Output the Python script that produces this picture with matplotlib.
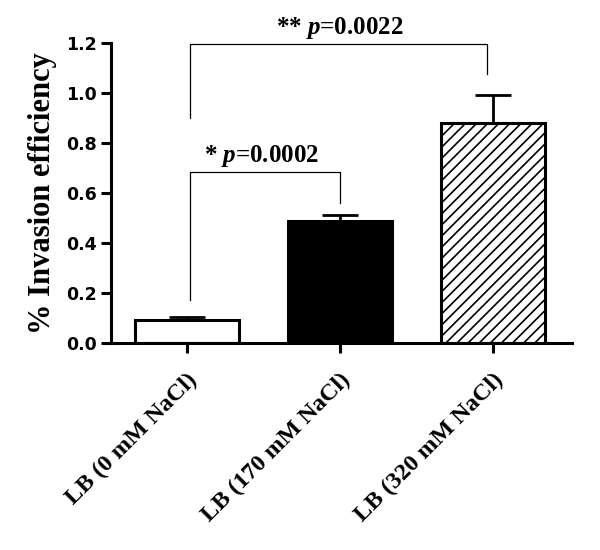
import matplotlib
matplotlib.use('Agg')
import matplotlib.pyplot as plt

plt.rcParams['mathtext.fontset'] = 'custom'
plt.rcParams['mathtext.it'] = 'Liberation Serif:italic:bold'
plt.rcParams['mathtext.rm'] = 'Liberation Serif:bold'
plt.rcParams['hatch.linewidth'] = 1.2

categories = ['LB (0 mM NaCl)', 'LB (170 mM NaCl)', 'LB (320 mM NaCl)']
means = [0.092, 0.488, 0.88]
errors = [0.012, 0.024, 0.11]
y_ticks = [0.0, 0.2, 0.4, 0.6, 0.8, 1.0, 1.2]

fig = plt.figure(figsize=(6, 5.5), dpi=100)
ax = fig.add_axes([0.185, 0.376, 0.768, 0.546])

x = range(len(categories))
faces = ['white', 'black', 'white']
hatches = ['', '', '///']
for i in x:
    ax.bar(i, means[i], width=0.68, color=faces[i], edgecolor='black',
           linewidth=2.2, hatch=hatches[i], zorder=2)
    # only upper error bar
    ax.errorbar(i, means[i], yerr=[[0], [errors[i]]], fmt='none',
                ecolor='black', elinewidth=2, capsize=13, capthick=2, zorder=1)

# significance brackets
ax.plot([0.02, 0.02, 1.0, 1.0], [0.172, 0.684, 0.684, 0.56], color='black', lw=0.9)
ax.plot([0.02, 0.02, 1.96, 1.96], [0.90, 1.196, 1.196, 1.076], color='black', lw=0.9)
ax.text(0.49, 0.695, '* $p$=0.0002', ha='center', va='bottom',
        family='Liberation Serif', weight='bold', fontsize=18)
ax.text(1.0, 1.207, '** $p$=0.0022', ha='center', va='bottom',
        family='Liberation Serif', weight='bold', fontsize=18)

ax.set_xlim(-0.497, 2.516)
ax.set_ylim(0, 1.2)
ax.set_yticks(y_ticks)
ax.set_yticklabels(['%.1f' % t for t in y_ticks], fontsize=12.5, weight='bold')
ax.set_xticks(list(x))
ax.set_xticklabels(categories, rotation=45, ha='right', rotation_mode='anchor',
                   family='Liberation Serif', weight='bold', fontsize=17.5)
ax.tick_params(axis='x', pad=12)
ax.set_ylabel('% Invasion efficiency', family='Liberation Serif',
              weight='bold', fontsize=22, labelpad=7)

for s in ['top', 'right']:
    ax.spines[s].set_visible(False)
for s in ['left', 'bottom']:
    ax.spines[s].set_linewidth(2.2)
ax.tick_params(width=2.2, length=7)
ax.tick_params(axis='y', pad=3)

fig.savefig('out.png', dpi=100)
